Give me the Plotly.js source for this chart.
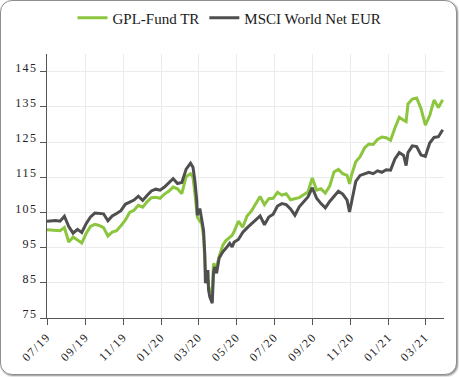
<!DOCTYPE html>
<html>
<head>
<meta charset="utf-8">
<script src="https://cdn.plot.ly/plotly-3.0.1.min.js"></script>
<style>
  html, body { margin: 0; padding: 0; background: #ffffff; }
  #frame { position: absolute; left: 0; top: 0; width: 457px; height: 375px; box-sizing: border-box;
           border: 1px solid #8f8f8f; border-radius: 12px; box-shadow: 1px 1px 2px rgba(0,0,0,0.45); background: #fff; }
  #chart { position: absolute; left: 0; top: 0; width: 459px; height: 377px; }
  .xtick text, .ytick text { letter-spacing: 1.4px; }
</style>
</head>
<body>
<div id="frame"></div>
<div id="chart"></div>
<script>
// Dates (x categories)
const dates = [
 '2019-07-01','2019-07-08','2019-07-15','2019-07-22','2019-07-29','2019-08-05','2019-08-12','2019-08-19','2019-08-26',
 '2019-09-02','2019-09-09','2019-09-16','2019-09-23','2019-09-30','2019-10-07','2019-10-14','2019-10-21','2019-10-28',
 '2019-11-04','2019-11-11','2019-11-18','2019-11-25','2019-12-02','2019-12-09','2019-12-16','2019-12-23','2019-12-30',
 '2020-01-06','2020-01-13','2020-01-20','2020-01-27','2020-02-03','2020-02-10','2020-02-17','2020-02-21','2020-02-24',
 '2020-02-27','2020-02-28','2020-03-03','2020-03-06','2020-03-09','2020-03-11','2020-03-12','2020-03-13','2020-03-16',
 '2020-03-17','2020-03-19','2020-03-23','2020-03-24','2020-03-25','2020-03-27','2020-03-30','2020-04-03','2020-04-09',
 '2020-04-14','2020-04-20','2020-04-24','2020-04-27','2020-05-04','2020-05-11','2020-05-18','2020-05-25','2020-06-01',
 '2020-06-08','2020-06-15','2020-06-22','2020-06-29','2020-07-06','2020-07-13','2020-07-20','2020-07-27','2020-08-03',
 '2020-08-10','2020-08-17','2020-08-24','2020-08-31','2020-09-07','2020-09-14','2020-09-21','2020-09-28','2020-10-05',
 '2020-10-12','2020-10-19','2020-10-26','2020-10-30','2020-11-02','2020-11-09','2020-11-16','2020-11-23','2020-11-30',
 '2020-12-07','2020-12-14','2020-12-21','2020-12-28','2021-01-04','2021-01-11','2021-01-18','2021-01-25','2021-01-29',
 '2021-02-01','2021-02-08','2021-02-15','2021-02-22','2021-03-01','2021-03-08','2021-03-15','2021-03-22','2021-03-29'
];

// GPL-Fund TR (green)
const gplFund = [
 100.1,100.0,100.0, 99.8,100.7, 96.6, 98.0, 97.2, 96.3,
  99.0,101.0,101.6,101.3,100.7, 98.3, 99.4, 99.8,101.2,
 102.8,105.0,105.6,107.0,106.5,108.0,109.2,109.3,109.0,
 110.2,111.0,112.2,111.7,110.3,115.2,116.0,115.0,110.5,
 106.0,103.7,102.5,101.8, 98.0, 91.4, 87.0, 85.0, 85.8,
  84.0, 83.0, 82.0, 86.0, 90.5, 90.0, 89.5, 92.4, 95.7,
  97.0, 98.0, 98.5, 99.5,102.5,100.8,104.0,105.4,107.5,
 109.5,107.2,108.9,109.0,110.7,109.9,110.3,108.6,108.9,
 109.2,110.0,110.8,114.8,111.3,111.7,110.5,112.5,116.5,
 117.2,116.0,115.5,113.1,115.5,119.4,120.8,123.3,124.4,
 124.3,125.7,126.4,126.2,125.5,129.0,132.0,131.2,130.8,
 135.8,137.2,137.5,134.5,129.8,132.5,136.9,134.8,137.0
];

// MSCI World Net EUR (dark grey)
const msciWorld = [
 102.5,102.6,102.7,102.5,103.9,101.0, 99.1,100.2, 99.3,
 101.8,103.7,104.8,104.8,104.6,102.6,104.0,104.7,105.5,
 107.3,107.8,108.5,109.6,108.4,109.8,111.1,111.6,111.3,
 112.2,113.4,114.6,113.2,113.5,117.3,119.0,117.8,114.0,
 108.4,104.2,106.1,102.7, 99.9, 93.0, 84.9, 87.0, 88.6,
  83.0, 81.0, 79.2, 85.8, 88.0, 89.5, 87.7, 92.0, 93.8,
  94.8, 96.2, 95.2, 96.5, 97.3, 99.3,100.6,101.7,103.0,
 104.0,101.5,103.7,104.5,106.8,107.5,107.2,106.0,104.2,
 106.6,108.0,109.4,112.0,109.0,107.5,106.3,108.1,109.5,
 111.0,110.2,108.5,105.1,108.0,113.8,115.5,116.0,116.4,
 116.0,116.8,116.4,117.1,117.0,120.2,122.0,121.2,118.3,
 122.0,123.9,123.7,121.3,120.9,124.7,126.3,126.5,128.5
];

const seriesNames = ['GPL-Fund TR', 'MSCI World Net EUR'];
const xTickVals = ['2019-07-01','2019-09-01','2019-11-01','2020-01-01','2020-03-01','2020-05-01',
                   '2020-07-01','2020-09-01','2020-11-01','2021-01-01','2021-03-01'];
const xTickText = ['07/19','09/19','11/19','01/20','03/20','05/20','07/20','09/20','11/20','01/21','03/21'];
const yTickVals = [75, 85, 95, 105, 115, 125, 135, 145];

const serif = 'Liberation Serif';

const traces = [
  { x: dates, y: gplFund, name: seriesNames[0], type: 'scatter', mode: 'lines',
    line: { color: '#8cc63f', width: 3 } },
  { x: dates, y: msciWorld, name: seriesNames[1], type: 'scatter', mode: 'lines',
    line: { color: '#4f4f4f', width: 3 } }
];

const layout = {
  width: 459, height: 377,
  margin: { l: 47, r: 15, t: 54, b: 59, pad: 0 },
  paper_bgcolor: 'rgba(0,0,0,0)',
  plot_bgcolor: 'rgba(0,0,0,0)',
  font: { family: serif },
  showlegend: true,
  legend: {
    orientation: 'h', xref: 'container', yref: 'container',
    x: 0.5, xanchor: 'center', y: 0.952, yanchor: 'middle',
    font: { family: serif, size: 15, color: '#1a1a1a' },
    itemwidth: 30, bgcolor: 'rgba(0,0,0,0)'
  },
  xaxis: {
    type: 'date',
    range: ['2019-07-01', '2021-03-31'],
    tickmode: 'array', tickvals: xTickVals, ticktext: xTickText,
    tickangle: -45,
    ticks: 'outside', ticklen: 6, tickwidth: 1, tickcolor: '#555',
    showline: true, linecolor: '#555', linewidth: 1.2,
    showgrid: true, gridcolor: '#ebebeb', gridwidth: 1,
    zeroline: false,
    tickfont: { family: serif, size: 12, color: '#222' }
  },
  yaxis: {
    range: [75, 150],
    tickmode: 'array', tickvals: yTickVals,
    ticks: 'outside', ticklen: 6, tickwidth: 1, tickcolor: '#555',
    showline: true, linecolor: '#555', linewidth: 1.2,
    showgrid: true, gridcolor: '#ebebeb', gridwidth: 1,
    zeroline: false,
    ticklabelshift: -4,
    tickfont: { family: serif, size: 12, color: '#222' }
  }
};

Plotly.newPlot('chart', traces, layout, { displayModeBar: false, staticPlot: true });
</script>
</body>
</html>
